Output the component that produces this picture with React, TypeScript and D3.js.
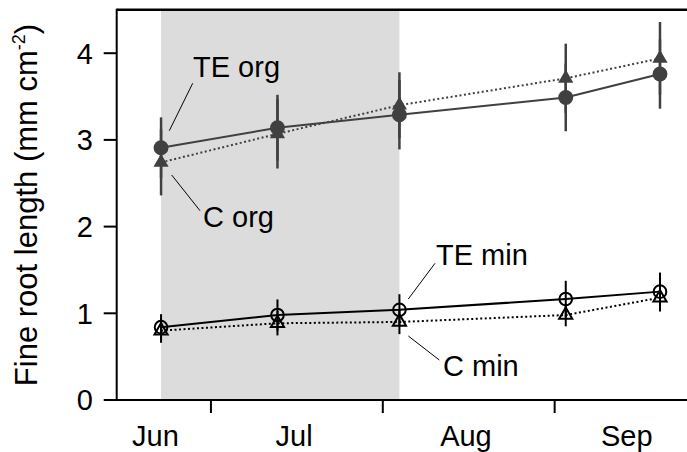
import React from 'react';
import * as d3 from 'd3';

// sampling dates (2011)
const dates = ['2011-06-22', '2011-07-13', '2011-08-04', '2011-09-03', '2011-09-20'];

// fine root length, mm cm-2, with error bars
const teOrg = [2.91, 3.14, 3.29, 3.49, 3.76];
const teOrgErr = [0.35, 0.38, 0.4, 0.39, 0.4];
const cOrg = [2.74, 3.07, 3.4, 3.71, 3.94];
const cOrgErr = [0.38, 0.4, 0.38, 0.4, 0.42];
const teMin = [0.84, 0.98, 1.04, 1.165, 1.25];
const teMinErr = [0.15, 0.18, 0.18, 0.21, 0.22];
const cMin = [0.8, 0.885, 0.9, 0.98, 1.18];
const cMinErr = [0.14, 0.14, 0.14, 0.13, 0.16];

const yTicks = [0, 1, 2, 3, 4];
const monthTicks = ['2011-07-01', '2011-08-01', '2011-09-01'];
const monthLabels = ['Jun', 'Jul', 'Aug', 'Sep'];
const monthLabelDates = ['2011-06-21', '2011-07-16', '2011-08-16', '2011-09-14'];

const W = 687;
const H = 452;
const FONT = '"Liberation Sans", Arial, sans-serif';
const FS = 29;

const parse = (s: string) => new Date(s + 'T00:00:00Z');

const App: React.FC = () => {
  const x = d3.scaleUtc()
    .domain([parse('2011-06-14'), parse('2011-09-25')])
    .range([116.7, 687.7]);
  const y = d3.scaleLinear().domain([0, 4.5]).range([400, 9.85]);

  const xs = dates.map(d => x(parse(d)));
  const line = d3.line<number>().x((_, i) => xs[i]).y(v => y(v));

  const circle = d3.symbol(d3.symbolCircle, 175)();
  const triFilled = d3.symbol(d3.symbolTriangle, 100)();
  const triOpen = d3.symbol(d3.symbolTriangle, 75)();
  const circOpen = d3.symbol(d3.symbolCircle, 125)();

  const errBars = (vals: number[], errs: number[], color: string, w: number) =>
    vals.map((v, i) => (
      <line key={i} x1={xs[i]} x2={xs[i]} y1={y(v - errs[i])} y2={y(v + errs[i])}
        stroke={color} strokeWidth={w} />
    ));

  const dark = '#404040';
  const x0 = x.range()[0];
  const yBase = y(0);
  const yTop = y(4.5);

  return (
    <svg width={W} height={H} style={{ position: 'absolute', left: 0, top: 0 }}
      fontFamily={FONT}>
      {/* shaded period */}
      <rect x={xs[0]} y={yTop + 1} width={xs[2] - xs[0]} height={yBase - yTop - 1} fill="#dcdcdc" />

      {/* lines */}
      <path d={line(cOrg) || ''} fill="none" stroke={dark} strokeWidth={2} strokeDasharray="2,2.5" />
      <path d={line(teOrg) || ''} fill="none" stroke={dark} strokeWidth={2} />
      <path d={line(cMin) || ''} fill="none" stroke="#000" strokeWidth={2} strokeDasharray="2,2.5" />
      <path d={line(teMin) || ''} fill="none" stroke="#000" strokeWidth={2} />

      {/* error bars */}
      {errBars(cOrg, cOrgErr, dark, 2.5)}
      {errBars(teOrg, teOrgErr, dark, 2.5)}
      {errBars(cMin, cMinErr, '#000', 2)}
      {errBars(teMin, teMinErr, '#000', 2)}

      {/* markers */}
      {cOrg.map((v, i) => (
        <path key={'co' + i} d={triFilled || ''} transform={`translate(${xs[i]},${y(v)})`} fill={dark} />
      ))}
      {teOrg.map((v, i) => (
        <path key={'to' + i} d={circle || ''} transform={`translate(${xs[i]},${y(v)})`} fill={dark} />
      ))}
      {cMin.map((v, i) => (
        <path key={'cm' + i} d={triOpen || ''} transform={`translate(${xs[i]},${y(v)})`}
          fill="none" stroke="#000" strokeWidth={2} />
      ))}
      {teMin.map((v, i) => (
        <path key={'tm' + i} d={circOpen || ''} transform={`translate(${xs[i]},${y(v)})`}
          fill="none" stroke="#000" strokeWidth={2} />
      ))}

      {/* frame */}
      <line x1={x0} x2={W} y1={yTop} y2={yTop} stroke="#000" strokeWidth={2.5} />
      <line x1={x0} x2={x0} y1={yTop - 1.2} y2={yBase + 1} stroke="#000" strokeWidth={2} />
      <line x1={x0} x2={W} y1={yBase} y2={yBase} stroke="#000" strokeWidth={2} />

      {/* y axis */}
      {yTicks.map(t => (
        <g key={t}>
          <line x1={x0 - 13} x2={x0} y1={y(t)} y2={y(t)} stroke="#000" strokeWidth={2} />
          <text x={93} y={y(t) + 10.4} textAnchor="end" fontSize={FS}>{t}</text>
        </g>
      ))}
      <text transform={`translate(37,205) rotate(-90)`} textAnchor="middle" fontSize={31}>
        Fine root length (mm cm<tspan dy={-12} fontSize={18}>-2</tspan><tspan dy={12}>)</tspan>
      </text>

      {/* x axis */}
      {monthTicks.map(m => (
        <line key={m} x1={x(parse(m))} x2={x(parse(m))} y1={yBase} y2={yBase + 13}
          stroke="#000" strokeWidth={2} />
      ))}
      {monthLabels.map((m, i) => (
        <text key={m} x={x(parse(monthLabelDates[i]))} y={445.5} textAnchor="middle" fontSize={FS}>{m}</text>
      ))}

      {/* annotations */}
      <g stroke="#000" strokeWidth={1}>
        <line x1={192.7} y1={83.3} x2={169.3} y2={130.7} />
        <line x1={171.7} y1={175} x2={200} y2={210.7} />
        <line x1={435} y1={263.3} x2={408.3} y2={299} />
        <line x1={408.3} y1={336} x2={439.3} y2={360} />
      </g>
      <text x={193} y={77} fontSize={FS}>TE org</text>
      <text x={203} y={227.3} fontSize={FS}>C org</text>
      <text x={436} y={265} fontSize={FS}>TE min</text>
      <text x={443} y={376} fontSize={FS}>C min</text>
    </svg>
  );
};

export default App;
